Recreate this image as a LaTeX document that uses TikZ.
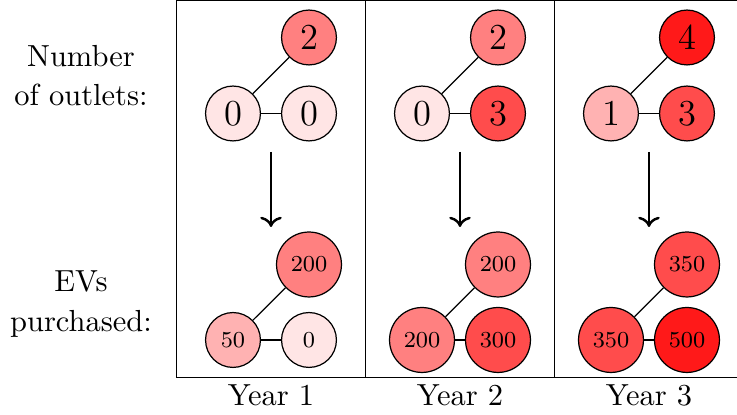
\documentclass[tikz,border=0pt]{standalone}
\usetikzlibrary{arrows.meta}

\tikzset{
  cnt/.style={circle, draw, inner sep=0pt, minimum size=18pt, font=\large},
  evs/.style={circle, draw, inner sep=0pt, minimum size=18pt, font=\fontsize{7.5}{9}\selectfont},
  wide/.style={minimum size=21.3pt},
  rowlabel/.style={align=center, inner sep=0pt, font=\fontsize{10}{13}\selectfont},
  flow/.style={thick, ->},
  frameline/.style={line width=0.4pt}
}

\begin{document}
\begin{tikzpicture}[x=0.328pt, y=-0.328pt]
  \useasboundingbox (0,0) rectangle (737,415);

  % frame: open on the right where the last panel runs off the page
  \draw[frameline] (737,0.5) -- (176.5,0.5) -- (176.5,377.7) -- (737,377.7);
  \draw[frameline] (365.5,0.5) -- (365.5,377.7);
  \draw[frameline] (554.5,0.5) -- (554.5,377.7);

  % row labels
  \node[rowlabel] (lblA) at (81,75.7) {Number\\of outlets:};
  \node[rowlabel] (lblB) at (81,304) {EVs\\purchased:};

  % ---- Year 1 ----
  \node[cnt, fill=red!50] (a1) at (309,37.5) {2};
  \node[cnt, fill=red!10] (b1) at (233,113.5) {0};
  \node[cnt, fill=red!10] (c1) at (309,113.5) {0};
  \draw (b1) -- (a1);
  \draw (b1) -- (c1);
  \node[evs, wide, fill=red!50] (d1) at (309,264.5) {200};
  \node[evs, fill=red!30] (e1) at (233,340) {50};
  \node[evs, fill=red!10] (f1) at (309,340) {0};
  \draw (e1) -- (d1);
  \draw (e1) -- (f1);
  \coordinate (s1) at (271,152);
  \coordinate (t1) at (271,227);
  \draw[flow] (s1) -- (t1);
  \node[anchor=base] (y1) at (271,406) {Year 1};

  % ---- Year 2 ----
  \node[cnt, fill=red!50] (a2) at (498,37.5) {2};
  \node[cnt, fill=red!10] (b2) at (422,113.5) {0};
  \node[cnt, fill=red!70] (c2) at (498,113.5) {3};
  \draw (b2) -- (a2);
  \draw (b2) -- (c2);
  \node[evs, wide, fill=red!50] (d2) at (498,264.5) {200};
  \node[evs, wide, fill=red!50] (e2) at (422,340) {200};
  \node[evs, wide, fill=red!70] (f2) at (498,340) {300};
  \draw (e2) -- (d2);
  \draw (e2) -- (f2);
  \coordinate (s2) at (460,152);
  \coordinate (t2) at (460,227);
  \draw[flow] (s2) -- (t2);
  \node[anchor=base] (y2) at (460,406) {Year 2};

  % ---- Year 3 ----
  \node[cnt, fill=red!90] (a3) at (687,37.5) {4};
  \node[cnt, fill=red!30] (b3) at (611,113.5) {1};
  \node[cnt, fill=red!70] (c3) at (687,113.5) {3};
  \draw (b3) -- (a3);
  \draw (b3) -- (c3);
  \node[evs, wide, fill=red!70] (d3) at (687,264.5) {350};
  \node[evs, wide, fill=red!70] (e3) at (611,340) {350};
  \node[evs, wide, fill=red!90] (f3) at (687,340) {500};
  \draw (e3) -- (d3);
  \draw (e3) -- (f3);
  \coordinate (s3) at (649,152);
  \coordinate (t3) at (649,227);
  \draw[flow] (s3) -- (t3);
  \node[anchor=base] (y3) at (649,406) {Year 3};
\end{tikzpicture}
\end{document}
